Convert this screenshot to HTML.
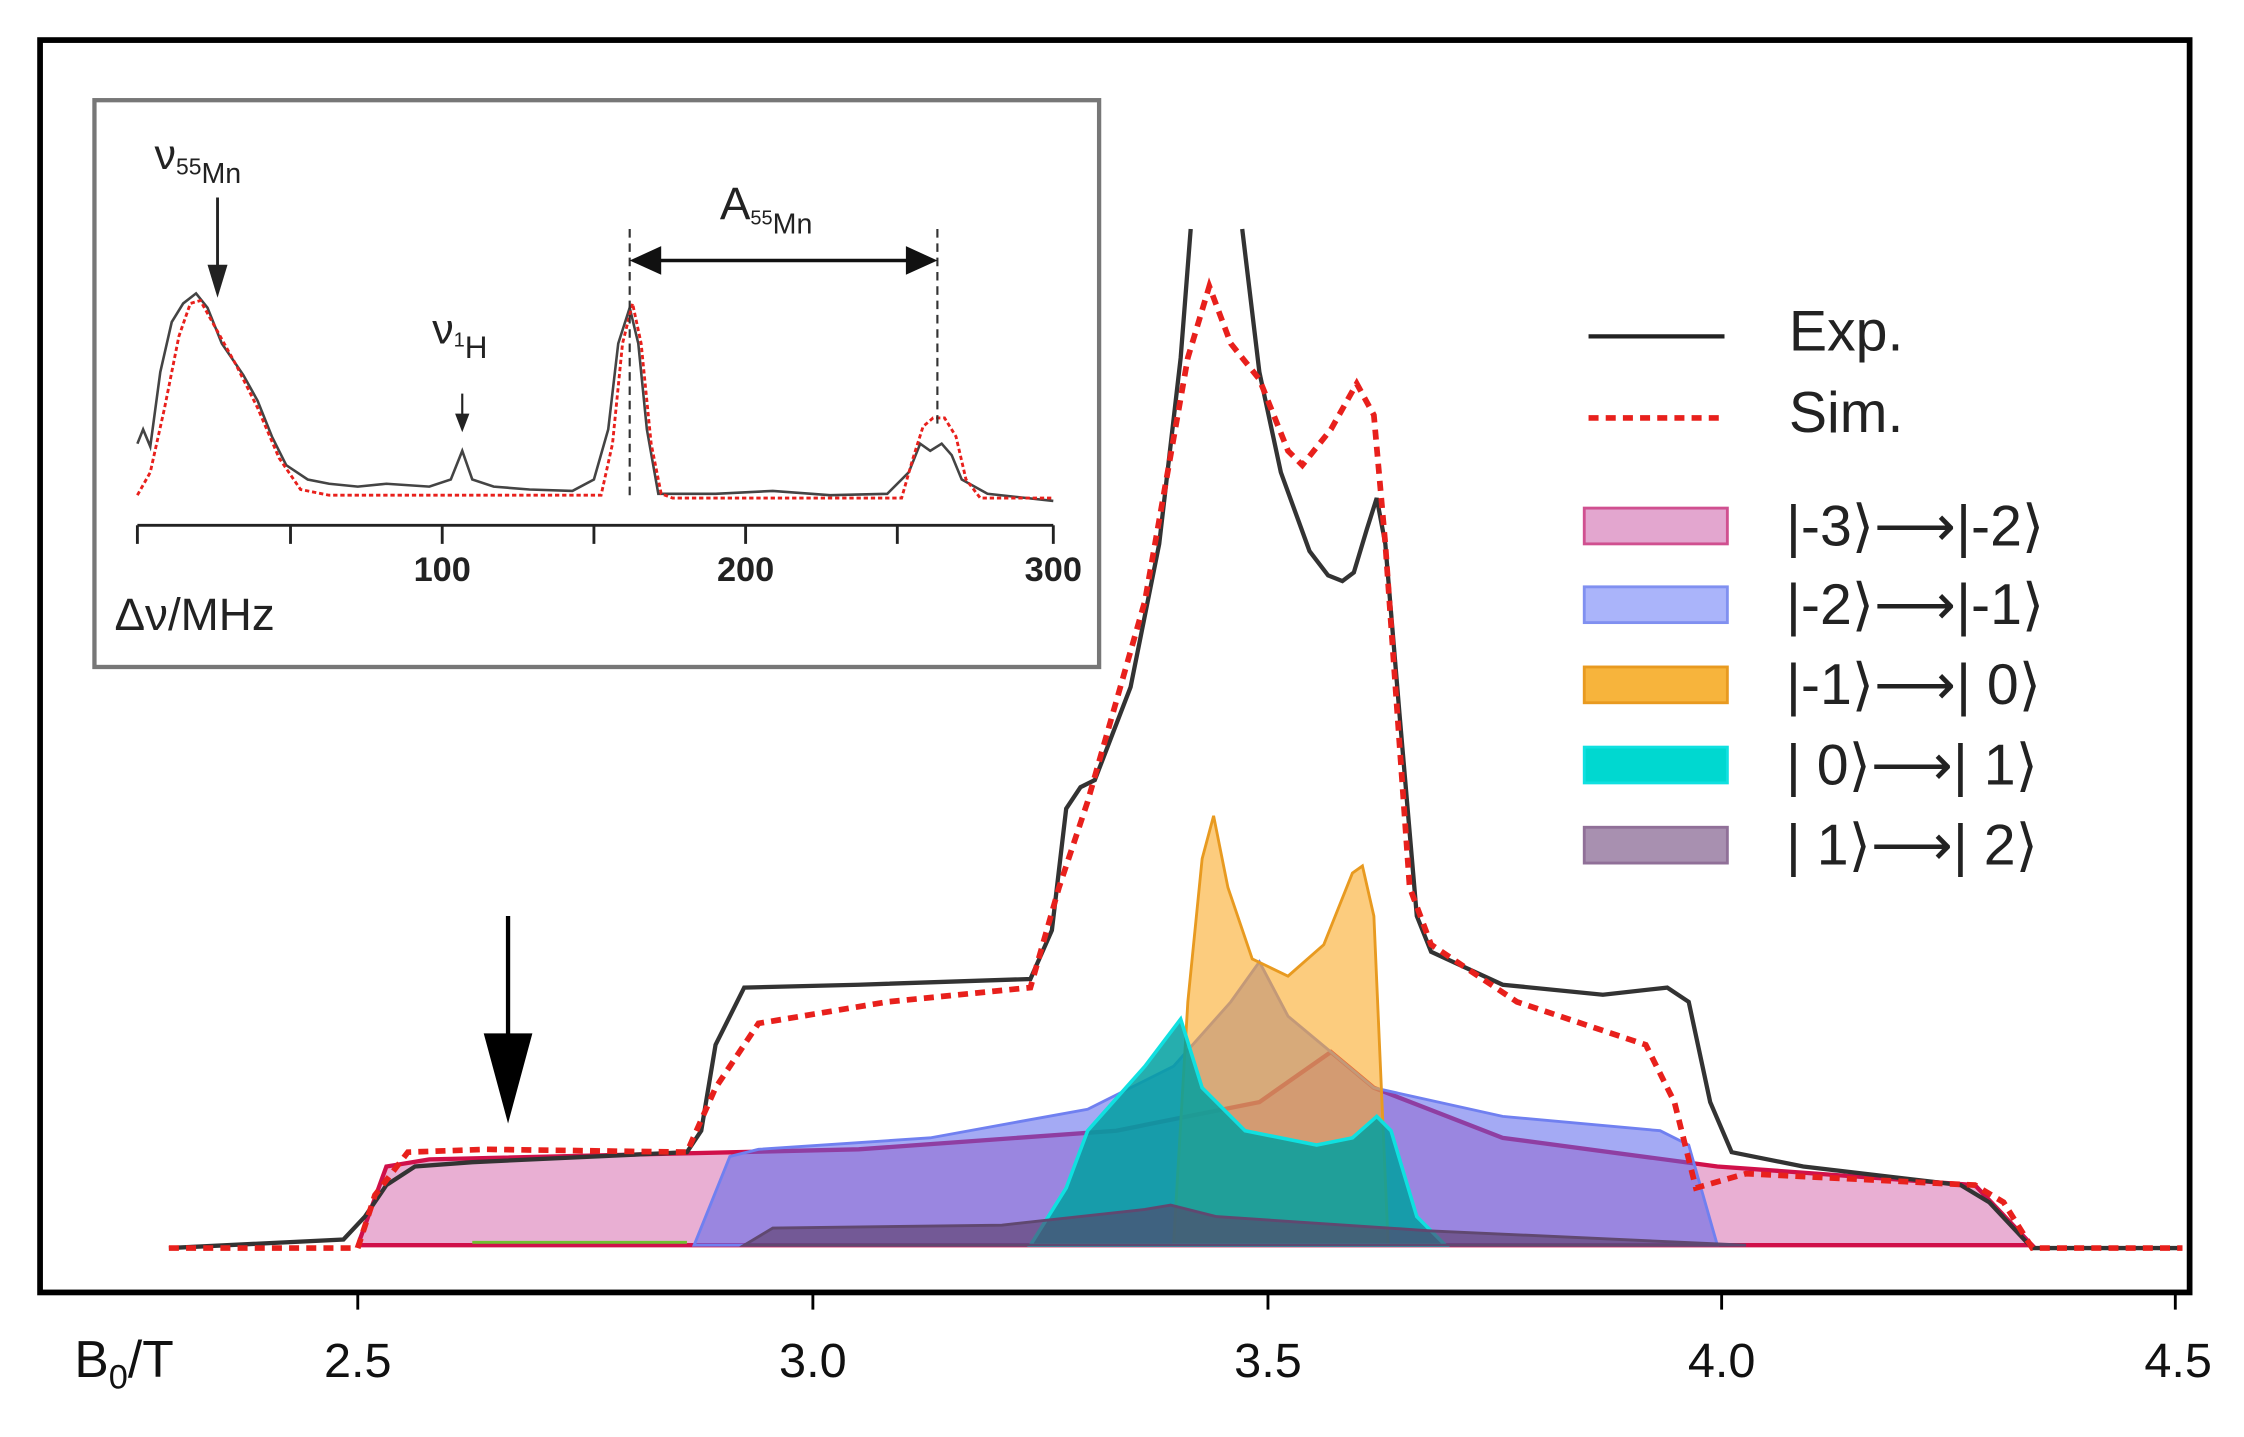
<!DOCTYPE html>
<html><head><meta charset="utf-8"><style>
html,body{margin:0;padding:0;background:#fff;}
svg{display:block;}
text{font-family:"Liberation Sans",sans-serif;}
</style></head><body>
<svg width="2244" height="1437" viewBox="0 0 1568 1004" preserveAspectRatio="none" xmlns="http://www.w3.org/2000/svg">
<rect x="0" y="0" width="1568" height="1004" fill="#fff"/>
<rect x="28" y="28" width="1502" height="875" fill="none" stroke="#000" stroke-width="4"/>
<g stroke="#000" stroke-width="2">
<line x1="250" y1="903" x2="250" y2="915"/><line x1="568" y1="903" x2="568" y2="915"/>
<line x1="886" y1="903" x2="886" y2="915"/><line x1="1203" y1="903" x2="1203" y2="915"/>
<line x1="1520" y1="903" x2="1520" y2="915"/>
</g>
<g font-size="34" fill="#111" text-anchor="middle">
<text x="250" y="962">2.5</text><text x="568" y="962">3.0</text><text x="886" y="962">3.5</text>
<text x="1203" y="962">4.0</text><text x="1522" y="962">4.5</text>
</g>
<text x="52" y="962" font-size="36" fill="#111">B<tspan font-size="24" dy="8">0</tspan><tspan dy="-8">/T</tspan></text>

<polygon points="250,870 270,815 300,810 600,803 780,790 880,770 930,735 960,760 1050,795 1200,815 1380,828 1420,870" fill="rgba(215,110,175,0.55)" stroke="#d0104a" stroke-width="3"/>
<polygon points="485,870 510,808 530,803 650,795 760,775 820,745 860,700 880,672 900,710 960,760 1050,780 1160,790 1180,800 1200,870" fill="rgba(90,100,235,0.55)" stroke="#7080f0" stroke-width="2"/>
<polygon points="820,870 830,700 840,600 848,570 858,620 875,670 900,682 925,660 945,610 952,605 960,640 970,870" fill="rgba(250,170,40,0.6)" stroke="#e89a20" stroke-width="2"/>
<polygon points="720,870 745,830 760,790 800,745 825,712 840,760 870,790 920,800 945,795 962,780 972,790 990,850 1010,870" fill="rgba(0,160,160,0.85)" stroke="#10e0e0" stroke-width="2.5"/>
<polygon points="520,870 540,858 700,856 800,845 818,842 850,850 1000,860 1220,870" fill="rgba(90,60,100,0.6)" stroke="#604870" stroke-width="2"/>
<line x1="330" y1="868" x2="480" y2="868" stroke="#70c030" stroke-width="2"/>

<polyline fill="none" stroke="#333" stroke-width="3" points="118,872 240,866 255,850 270,828 290,815 330,812 480,805 490,790 500,730 520,690 600,688 720,684 735,650 745,565 755,550 765,545 790,480 810,380 825,250 832,160"/>
<polyline fill="none" stroke="#333" stroke-width="3" points="868,160 880,260 895,330 915,385 928,402 938,406 946,400 955,370 962,348 968,380 978,500 990,640 1000,665 1050,688 1120,695 1165,690 1180,700 1195,770 1210,805 1260,815 1370,828 1390,840 1420,872 1525,872"/>
<polyline fill="none" stroke="#e8201c" stroke-width="4" stroke-dasharray="7,5" points="118,872 250,872 262,835 285,805 340,803 480,805 500,760 530,715 620,700 720,690 740,620 760,560 800,420 830,250 845,200 860,240 880,265 900,315 910,325 930,300 948,268 960,290 968,380 985,620 1000,660 1060,700 1150,730 1170,770 1185,830 1220,820 1380,828 1400,840 1420,872 1525,872"/>

<line x1="355" y1="640" x2="355" y2="740" stroke="#000" stroke-width="3"/>
<polygon points="338,722 372,722 355,785" fill="#000"/>

<line x1="1110" y1="235" x2="1205" y2="235" stroke="#222" stroke-width="3"/>
<line x1="1110" y1="292" x2="1205" y2="292" stroke="#e8201c" stroke-width="4" stroke-dasharray="7,5"/>
<g font-size="40" fill="#222">
<text x="1250" y="245">Exp.</text><text x="1250" y="302">Sim.</text>
</g>
<rect x="1107" y="355" width="100" height="25" fill="#e3a6cf" stroke="#d05090" stroke-width="2"/>
<rect x="1107" y="410" width="100" height="25" fill="#aab4fa" stroke="#8090f0" stroke-width="2"/>
<rect x="1107" y="466" width="100" height="25" fill="#f7b43c" stroke="#e89a20" stroke-width="2"/>
<rect x="1107" y="522" width="100" height="25" fill="#00d8d0" stroke="#10e0e0" stroke-width="2"/>
<rect x="1107" y="578" width="100" height="25" fill="#a890b0" stroke="#907098" stroke-width="2"/>
<g font-size="40" fill="#222">
<text x="1248" y="381">|-3⟩⟶|-2⟩</text>
<text x="1248" y="436">|-2⟩⟶|-1⟩</text>
<text x="1248" y="492">|-1⟩⟶| 0⟩</text>
<text x="1248" y="548">| 0⟩⟶| 1⟩</text>
<text x="1248" y="604">| 1⟩⟶| 2⟩</text>
</g>

<rect x="66" y="70" width="702" height="396" fill="#fff" stroke="#777" stroke-width="3"/>
<line x1="96" y1="367" x2="736" y2="367" stroke="#222" stroke-width="2"/>
<g stroke="#222" stroke-width="2">
<line x1="96" y1="367" x2="96" y2="380"/><line x1="203" y1="367" x2="203" y2="380"/>
<line x1="309" y1="367" x2="309" y2="380"/><line x1="415" y1="367" x2="415" y2="380"/>
<line x1="521" y1="367" x2="521" y2="380"/><line x1="627" y1="367" x2="627" y2="380"/>
<line x1="736" y1="367" x2="736" y2="380"/>
</g>
<g font-size="24" font-weight="bold" fill="#222" text-anchor="middle">
<text x="309" y="406">100</text><text x="521" y="406">200</text><text x="736" y="406">300</text>
</g>
<text x="80" y="440" font-size="32" fill="#222">Δν/MHz</text>
<polyline fill="none" stroke="#444" stroke-width="1.8" points="96,310 100,300 105,312 112,260 120,225 128,212 137,205 145,215 155,240 170,262 180,280 190,305 200,325 215,335 230,338 250,340 270,338 300,340 315,335 323,315 330,335 345,340 370,342 400,343 415,335 425,300 432,240 440,215 446,240 452,300 460,345 500,345 540,343 580,346 620,345 635,330 643,310 650,315 658,310 665,318 672,335 690,345 736,350"/>
<polyline fill="none" stroke="#e8201c" stroke-width="2" stroke-dasharray="3,2" points="96,346 105,330 115,285 125,235 133,212 140,210 150,228 165,255 180,285 195,320 210,342 230,346 420,346 428,310 435,240 442,212 448,240 455,310 462,345 470,348 630,348 638,320 645,298 652,292 660,292 668,305 675,335 685,348 736,348"/>
<text x="108" y="118" font-size="30" fill="#222">ν<tspan font-size="16" dy="4">55</tspan><tspan font-size="20" dy="6">Mn</tspan></text>
<line x1="152" y1="138" x2="152" y2="190" stroke="#222" stroke-width="2"/>
<polygon points="145,185 159,185 152,208" fill="#222"/>
<text x="302" y="240" font-size="30" fill="#222">ν<tspan font-size="14" dy="2">1</tspan><tspan font-size="22" dy="8">H</tspan></text>
<line x1="323" y1="275" x2="323" y2="292" stroke="#222" stroke-width="1.5"/>
<polygon points="318,289 328,289 323,302" fill="#222"/>
<text x="503" y="153" font-size="32" fill="#222" font-family="Liberation Serif">A<tspan font-size="14" dy="4">55</tspan><tspan font-size="20" dy="6" font-family="Liberation Sans">Mn</tspan></text>
<line x1="440" y1="160" x2="440" y2="350" stroke="#333" stroke-width="1.5" stroke-dasharray="6,4"/>
<line x1="655" y1="160" x2="655" y2="300" stroke="#333" stroke-width="1.5" stroke-dasharray="6,4"/>
<line x1="455" y1="182" x2="640" y2="182" stroke="#111" stroke-width="2.5"/>
<polygon points="440,182 462,172 462,192" fill="#111"/>
<polygon points="655,182 633,172 633,192" fill="#111"/>
</svg>
</body></html>
